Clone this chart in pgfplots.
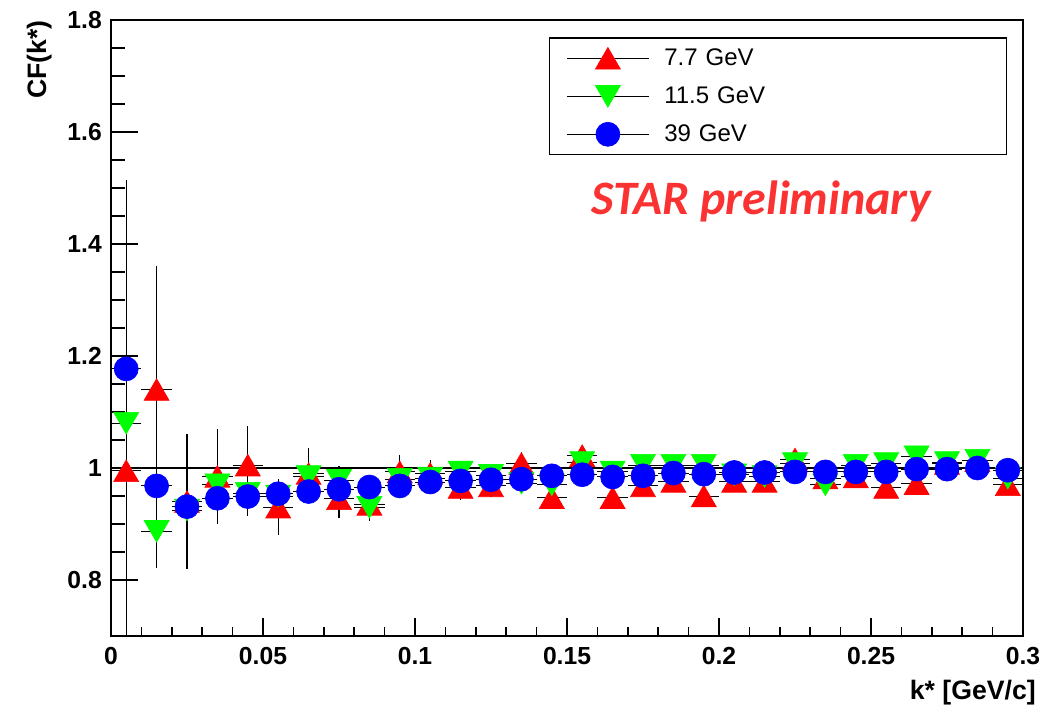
\documentclass[border=0pt]{standalone}
\usepackage{pgfplots}
\pgfplotsset{compat=1.18}
\usepackage{pgfplotstable}
\usepackage{fontspec}
\setmainfont{Liberation Sans}
\newfontfamily\starfont{Carlito}
\definecolor{starred}{RGB}{250,50,50}

\pgfplotsset{
 yerr/.style={
  error bars/y dir=both, error bars/y explicit,
  error bars/error mark=none,
  error bars/error bar style={black, line width=1pt}},
 xerr/.style={forget plot, only marks, mark=none,
  error bars/x dir=both, error bars/x fixed=0.005,
  error bars/error mark=none,
  error bars/error bar style={black, line width=0.7pt}}}

\pgfplotstableread{
x y ey
0.005 0.995 0.52
0.015 1.14 0.22
0.025 0.94 0.12
0.035 0.985 0.085
0.045 1.005 0.07
0.055 0.93 0.05
0.065 0.99 0.045
0.075 0.945 0.035
0.085 0.935 0.03
0.095 0.993 0.03
0.105 0.99 0.025
0.115 0.965 0.022
0.125 0.968 0.02
0.135 1.008 0.02
0.145 0.947 0.019
0.155 1.022 0.018
0.165 0.947 0.017
0.175 0.968 0.016
0.185 0.976 0.016
0.195 0.95 0.015
0.205 0.976 0.015
0.215 0.976 0.014
0.225 1.016 0.014
0.235 0.982 0.013
0.245 0.984 0.013
0.255 0.965 0.013
0.265 0.972 0.012
0.275 1.008 0.012
0.285 1.013 0.012
0.295 0.97 0.012
}\redtab

\pgfplotstableread{
x y ey
0.005 1.08 0.3
0.015 0.887 0.065
0.025 0.925 0.06
0.035 0.97 0.045
0.045 0.955 0.04
0.055 0.95 0.03
0.065 0.985 0.028
0.075 0.978 0.025
0.085 0.93 0.02
0.095 0.98 0.018
0.105 0.982 0.016
0.115 0.993 0.015
0.125 0.987 0.014
0.135 0.973 0.013
0.145 0.97 0.012
0.155 1.01 0.012
0.165 0.993 0.011
0.175 1.005 0.011
0.185 1.005 0.01
0.195 1.005 0.01
0.205 0.988 0.01
0.215 0.985 0.009
0.225 1.008 0.009
0.235 0.97 0.009
0.245 1.005 0.009
0.255 1.008 0.008
0.265 1.02 0.008
0.275 1.01 0.008
0.285 1.014 0.008
0.295 0.982 0.008
}\greentab

\pgfplotstableread{
x y ey
0.005 1.177 0.12
0.015 0.968 0.04
0.025 0.931 0.025
0.035 0.946 0.018
0.045 0.949 0.014
0.055 0.954 0.012
0.065 0.958 0.01
0.075 0.962 0.009
0.085 0.966 0.008
0.095 0.968 0.008
0.105 0.975 0.007
0.115 0.977 0.007
0.125 0.979 0.006
0.135 0.98 0.006
0.145 0.986 0.006
0.155 0.988 0.006
0.165 0.984 0.005
0.175 0.986 0.005
0.185 0.991 0.005
0.195 0.989 0.005
0.205 0.992 0.005
0.215 0.992 0.005
0.225 0.993 0.005
0.235 0.993 0.005
0.245 0.993 0.004
0.255 0.993 0.004
0.265 0.998 0.004
0.275 0.998 0.004
0.285 1.0 0.004
0.295 0.996 0.004
}\bluetab

\begin{document}
\begin{tikzpicture}[x=1pt,y=1pt]
\useasboundingbox (-83.25,-57) rectangle (697.5,477);
\begin{axis}[
  at={(0,0)}, anchor=south west,
  scale only axis, width=684pt, height=462pt,
  xmin=0, xmax=0.3, ymin=0.7, ymax=1.8,
  xtick={0,0.05,0.1,0.15,0.2,0.25,0.3},
  ytick={0.8,1,1.2,1.4,1.6,1.8},
  minor x tick num=4, minor y tick num=3,
  xtick pos=bottom, ytick pos=left, tick align=inside,
  axis line style={line width=1.1pt},
  every tick/.style={black, line width=1.1pt},
  major tick length=20pt, minor tick length=10.5pt,
  xtick style={/pgfplots/major tick length=13.5pt, /pgfplots/minor tick length=6.75pt},
  tick label style={font=\fontsize{18.5}{20}\selectfont\bfseries, inner sep=0pt},
  /pgf/number format/assume math mode=true,
  xticklabel style={/pgf/number format/fixed, /pgf/number format/precision=2},
  yticklabel style={/pgf/number format/fixed, /pgf/number format/precision=1},
  scaled ticks=false,
  xticklabel shift=8.25pt, yticklabel shift=6.75pt,
  xlabel={k* [GeV/c]}, ylabel={CF(k*)},
  label style={font=\fontsize{20}{22}\selectfont\bfseries, inner sep=0pt},
  xlabel style={at={(axis description cs:1.0143,-0.1039)}, anchor=base east},
  ylabel style={at={(axis description cs:-0.0647,1)}, anchor=south east},
  legend cell align=left,
  legend style={at={(0.48,0.972)}, anchor=north west, draw=black, line width=1.1pt,
    fill=white, inner xsep=12.75pt, inner ysep=1pt, column sep=11.25pt, row sep=0pt,
    font=\fontsize{18}{20}\selectfont,
    nodes={inner sep=0pt, minimum height=28.5pt, text width=244pt}},
]
\addplot[xerr] table[x=x, y=y] {\redtab};
\addplot[yerr, only marks, mark=triangle*, mark size=10.8pt, color=red,
  mark options={fill=red, draw=red, yshift=-2.7pt, line width=0.5pt},
  legend image code/.code={
    \draw[black,line width=1.1pt] (0pt,0pt) -- (61pt,0pt);
    \draw plot coordinates {(30.5pt,0pt)};}]
  table[x=x, y=y, y error=ey] {\redtab};
\addlegendentry{7.7 GeV}
\addplot[xerr] table[x=x, y=y] {\greentab};
\addplot[yerr, only marks, mark=triangle*, mark size=10.8pt, color=green,
  mark options={fill=green, draw=green, rotate=180, yshift=-2.7pt, line width=0.5pt},
  legend image code/.code={
    \draw[black,line width=1.1pt] (0pt,0pt) -- (61pt,0pt);
    \draw plot coordinates {(30.5pt,0pt)};}]
  table[x=x, y=y, y error=ey] {\greentab};
\addlegendentry{11.5 GeV}
\addplot[xerr] table[x=x, y=y] {\bluetab};
\addplot[yerr, only marks, mark=*, mark size=9pt, color=blue,
  mark options={fill=blue, draw=blue, line width=0.5pt},
  legend image code/.code={
    \draw[black,line width=1.1pt] (0pt,0pt) -- (61pt,0pt);
    \draw plot coordinates {(30.5pt,0pt)};}]
  table[x=x, y=y, y error=ey] {\bluetab};
\addlegendentry{39 GeV}
\addplot[black, line width=1.4pt, forget plot, no marks]
  coordinates {(0,1) (0.3,1)};
\node[font=\fontsize{36}{40}\starfont\bfseries\itshape, text=starred, anchor=base]
  at (axis cs:0.2138,1.452) {STAR preliminary};
\end{axis}
\end{tikzpicture}
\end{document}
